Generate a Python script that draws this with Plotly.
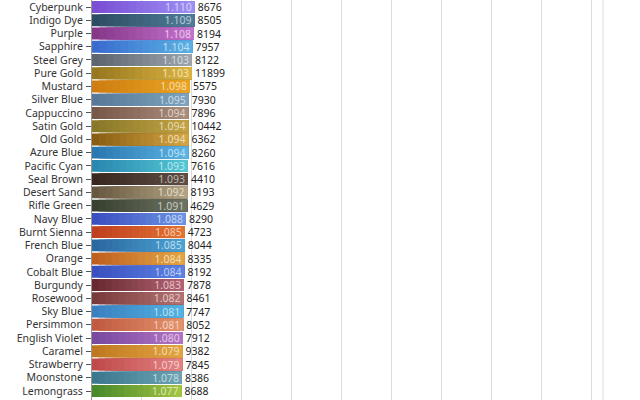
import plotly.graph_objects as go

names = ["Cyberpunk", "Indigo Dye", "Purple", "Sapphire", "Steel Grey", "Pure Gold",
         "Mustard", "Silver Blue", "Cappuccino", "Satin Gold", "Old Gold", "Azure Blue",
         "Pacific Cyan", "Seal Brown", "Desert Sand", "Rifle Green", "Navy Blue",
         "Burnt Sienna", "French Blue", "Orange", "Cobalt Blue", "Burgundy", "Rosewood",
         "Sky Blue", "Persimmon", "English Violet", "Caramel", "Strawberry", "Moonstone",
         "Lemongrass"]
ratios = [1.110, 1.109, 1.108, 1.104, 1.103, 1.103, 1.098, 1.095, 1.094, 1.094, 1.094,
          1.094, 1.093, 1.093, 1.092, 1.091, 1.088, 1.085, 1.085, 1.084, 1.084, 1.083,
          1.082, 1.081, 1.081, 1.080, 1.079, 1.079, 1.078, 1.077]
counts = [8676, 8505, 8194, 7957, 8122, 11899, 5575, 7930, 7896, 10442, 6362, 8260, 7616,
          4410, 8193, 4629, 8290, 4723, 8044, 8335, 8192, 7878, 8461, 7747, 8052, 7912,
          9382, 7845, 8386, 8688]
left_colors = ["#7a4fd6", "#2e4d63", "#86378a", "#3a6cd0", "#5d656e", "#98781f",
               "#cf7d10", "#587a98", "#785848", "#887828", "#8a5e12", "#2a78b0",
               "#2a88b0", "#382820", "#685840", "#384030", "#3a50c0", "#bf4020",
               "#2a68a0", "#c06020", "#3a50c0", "#682a30", "#783a3a", "#3a80c0",
               "#c05a40", "#784aa0", "#c07820", "#c04a4a", "#3a7890", "#488a2a"]
right_colors = ["#9c8ef2", "#4e7c98", "#c272cc", "#5ab0e2", "#9ca4ad", "#dab242",
                "#e9a424", "#7ca2be", "#aa8c7c", "#c2a244", "#d2a444", "#5cb2e2",
                "#52c4d2", "#5c4c42", "#b2a282", "#6c7262", "#6c92e2", "#e27232",
                "#4ca2d2", "#e2a442", "#5c82e2", "#b26272", "#b27272", "#52b2e2",
                "#e2926c", "#b272c2", "#e2a442", "#e28282", "#6ca2b2", "#a2c242"]


def hex2rgb(h):
    h = h.lstrip("#")
    return tuple(int(h[i:i + 2], 16) for i in (0, 2, 4))


def mix(c1, c2, t):
    a, b = hex2rgb(c1), hex2rgb(c2)
    return "rgb(%d,%d,%d)" % tuple(round(a[i] + (b[i] - a[i]) * t) for i in range(3))


text_colors = [mix(c, "#ffffff", 0.6) for c in right_colors]

x_start = 0.853
x_end = 2.1305
n_seg = 14
FONT = "Noto Sans"
FS = 10.5

fig = go.Figure()
for k in range(n_seg):
    t = k / (n_seg - 1)
    bases = [x_start + (v - x_start) * k / n_seg for v in ratios]
    fig.add_trace(go.Bar(
        y=names, x=[v - b for v, b in zip(ratios, bases)], base=bases,
        orientation="h", width=0.9,
        marker=dict(color=[mix(l, r, t) for l, r in zip(left_colors, right_colors)],
                    line=dict(width=0)),
        hoverinfo="skip", showlegend=False))

# value labels inside the bar end
fig.add_trace(go.Bar(
    y=names, x=[v - x_start for v in ratios], base=[x_start] * len(ratios),
    orientation="h", width=0.9,
    marker=dict(color="rgba(0,0,0,0)", line=dict(width=0)),
    text=["%.3f" % v for v in ratios], textposition="inside",
    insidetextanchor="end", constraintext="none", textangle=0,
    textfont=dict(color=text_colors, size=FS, family=FONT),
    showlegend=False, hovertemplate="%{y}: %{text}<extra></extra>"))

# count labels just outside the bar end
fig.add_trace(go.Bar(
    y=names, x=[v - x_start for v in ratios], base=[x_start] * len(ratios),
    orientation="h", width=0.9,
    marker=dict(color="rgba(0,0,0,0)", line=dict(width=0)),
    text=[str(c) for c in counts], textposition="outside",
    constraintext="none", textangle=0, cliponaxis=False,
    textfont=dict(color="#222222", size=FS, family=FONT),
    showlegend=False, hoverinfo="skip"))

fig.update_layout(
    width=640, height=400,
    margin=dict(l=92, r=37, t=0, b=0),
    barmode="overlay",
    plot_bgcolor="white", paper_bgcolor="white",
    font=dict(family=FONT, size=FS, color="#333333"),
    xaxis=dict(range=[x_start, x_end], tick0=0.977, dtick=0.125,
               showgrid=True, gridcolor="#dcdcdc", gridwidth=1,
               zeroline=False, showticklabels=False, ticks=""),
    yaxis=dict(categoryorder="array", categoryarray=names,
               tickmode="linear", dtick=1,
               range=[29.68, -0.53], showgrid=False,
               ticks="outside", ticklen=5, tickcolor="#555555",
               ticklabelstandoff=1,
               showline=True, linecolor="#999999", linewidth=1,
               tickfont=dict(size=FS, color="#333333", family=FONT)),
    shapes=[dict(type="line", xref="paper", yref="paper", x0=1, x1=1, y0=0, y1=1,
                 line=dict(color="#dcdcdc", width=1))],
)

fig.write_html("out.html")
